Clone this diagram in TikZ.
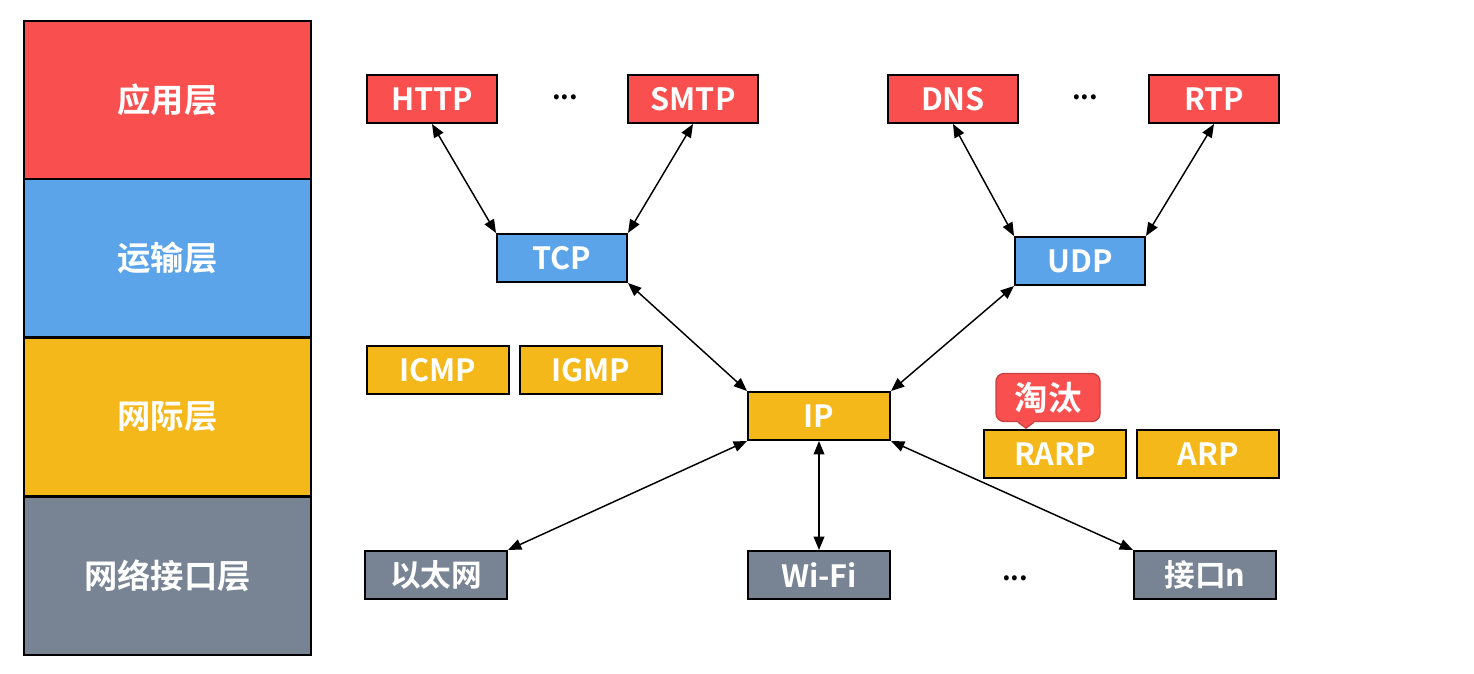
\documentclass[tikz,border=0pt]{standalone}
\usepackage{fontspec}
\setmainfont{Noto Sans CJK SC}[BoldFont={Noto Sans CJK SC Bold}]
\usepackage{tikz}
\usetikzlibrary{arrows.meta,positioning,calc}
\definecolor{appred}{HTML}{FA4F4F}
\definecolor{tpblue}{HTML}{5CA4EA}
\definecolor{ipyellow}{HTML}{F4B81A}
\definecolor{nigray}{HTML}{788494}
\definecolor{tagedge}{HTML}{C94040}
\tikzset{
  layer/.style={draw, line width=1.5pt, minimum width=215.25pt, minimum height=118.5pt, inner sep=0pt, text=white, font=\bfseries\fontsize{25}{29}\selectfont},
  proto/.style={draw, line width=1.5pt, minimum width=97.5pt, minimum height=36pt, inner sep=0pt, text=white, font=\bfseries\fontsize{23}{27}\selectfont},
  protow/.style={proto, minimum width=106.5pt},
  pr/.style={proto, fill=appred},
  pb/.style={proto, fill=tpblue},
  py/.style={protow, fill=ipyellow},
  pg/.style={protow, fill=nigray},
  dots/.style={font=\bfseries\fontsize{20}{24}\selectfont},
  ar/.style={{Triangle[length=10pt,width=8pt]}-{Triangle[length=10pt,width=8pt]}, line width=1.1pt},
}
\begin{document}
\begin{tikzpicture}[x=0.75pt, y=-0.75pt, node distance=6.75pt]
  \useasboundingbox (0,0) rectangle (1474,674);
  % layers on the left
  \node[layer, fill=appred] (app) at (167.5,100) {应用层};
  \node[layer, fill=tpblue] (trans) at (167.5,258) {运输层};
  \node[layer, fill=ipyellow] (inet) at (167.5,416.5) {网际层};
  \node[layer, fill=nigray] (nif) at (167.5,575.5) {网络接口层};

  % application layer
  \node[pr] (http) at (432,99) {HTTP};
  \node[dots] (d1) at (565,97) {...};
  \node[pr] (smtp) at (693,99) {SMTP};
  \node[pr] (dns) at (953,99) {DNS};
  \node[dots] (d2) at (1085,97) {...};
  \node[pr] (rtp) at (1214,99) {RTP};

  % transport layer
  \node[pb] (tcp) at (562,258) {TCP};
  \node[pb] (udp) at (1080,261) {UDP};

  % internet layer
  \node[py] (icmp) at (438,370) {ICMP};
  \node[py, right=of icmp] (igmp) {IGMP};
  \node[py] (ip) at (819,416) {IP};
  \node[py] (rarp) at (1055,454) {RARP};
  \node[py, right=of rarp] (arp) {ARP};
  \node[draw=tagedge, line width=1pt, fill=appred, rounded corners=6pt, minimum width=78pt, minimum height=36pt, inner sep=0pt, text=white, font=\bfseries\fontsize{25}{29}\selectfont] (tag) at (1048,397.5) {淘汰};
  \fill[appred] ($(tag.south)+(-31,-1.5)$) -- ($(tag.south)+(-22,6)$) -- ($(tag.south)+(-13,-1.5)$) -- cycle;
  \draw[tagedge, line width=1pt] ($(tag.south)+(-30,0)$) -- ($(tag.south)+(-22,6)$) -- ($(tag.south)+(-14,0)$);

  % network interface layer
  \node[pg] (eth) at (436,575) {以太网};
  \node[pg] (wifi) at (819,575) {Wi-Fi};
  \node[dots] (d3) at (1015,578) {...};
  \node[pg] (ifn) at (1205,575) {接口n};

  \foreach \a/\b in {http.south/tcp.north west, smtp.south/tcp.north east, dns.south/udp.north west, rtp.south/udp.north east, tcp.south east/ip.north west, udp.south west/ip.north east, ip.south west/eth.north east, ip.south/wifi.north, ip.south east/ifn.north west}{\draw[ar] (\a) -- (\b);}
\end{tikzpicture}
\end{document}
